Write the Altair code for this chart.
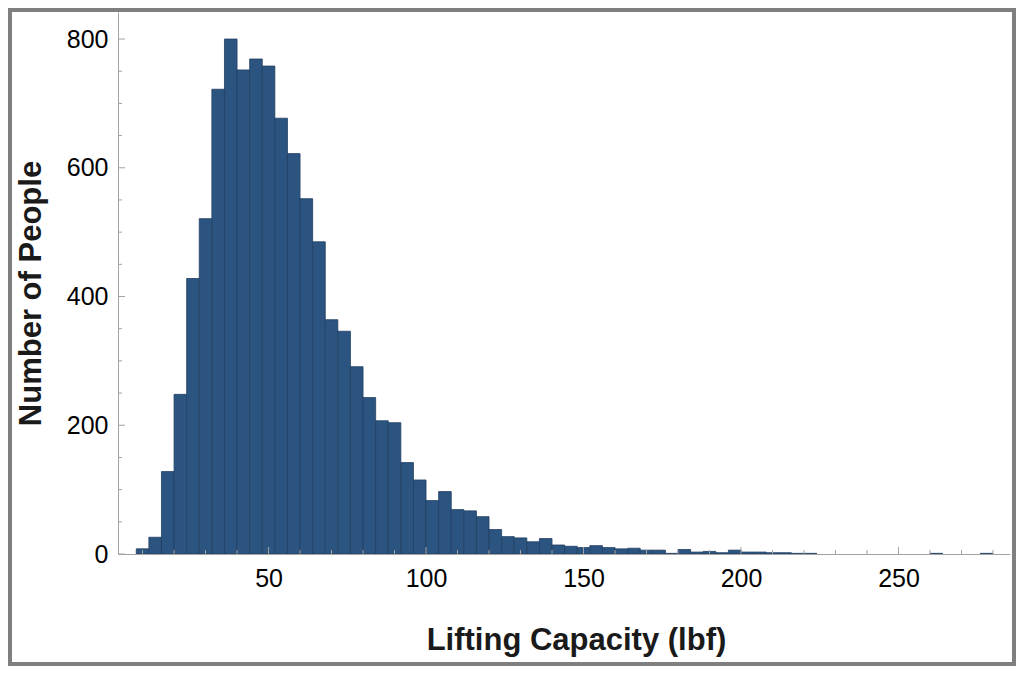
import altair as alt
import pandas as pd

# Histogram data (bin width 4 lbf)
bin_start = [8, 12, 16, 20, 24, 28, 32, 36, 40, 44, 48, 52, 56, 60, 64, 68, 72, 76,
             80, 84, 88, 92, 96, 100, 104, 108, 112, 116, 120, 124, 128, 132, 136,
             140, 144, 148, 152, 156, 160, 164, 168, 172, 176, 180, 184, 188, 192,
             196, 200, 204, 208, 212, 216, 220, 260, 276]
counts = [8, 26, 128, 248, 428, 521, 722, 800, 752, 769, 758, 677, 622, 552, 485,
          364, 346, 291, 243, 207, 204, 142, 115, 83, 97, 69, 67, 58, 38, 27, 25,
          19, 24, 14, 12, 10, 13, 10, 8, 9, 6, 6, 1, 7, 3, 4, 2, 6, 3, 3, 2, 2,
          1, 1, 1, 1]
bin_width = 4

x_major = [50, 100, 150, 200, 250]
x_minor = [10, 20, 30, 40, 60, 70, 80, 90, 110, 120, 130, 140, 160, 170, 180,
           190, 210, 220, 230, 240, 260, 270, 280]
y_major = [0, 200, 400, 600, 800]
y_minor = [50, 100, 150, 250, 300, 350, 450, 500, 550, 650, 700, 750]

W, H = 892, 542
FONT = "Liberation Sans, Arial, Helvetica, sans-serif"
BAR = "#2C5481"
BAR_EDGE = "#213F62"
AXIS = "#A3A3A3"

df = pd.DataFrame({"start": bin_start, "count": counts})
df["end"] = df["start"] + bin_width

xscale = alt.Scale(domain=[2.2, 285.4], nice=False, zero=False)
yscale = alt.Scale(domain=[0, 842], nice=False)

x_axis = alt.Axis(values=x_major, title="Lifting Capacity (lbf)", zindex=2,
                  labelPadding=12, titleX=458, titleY=86,
                  titleBaseline="middle", titleAlign="center")
y_axis = alt.Axis(values=y_major, title="Number of People", zindex=2,
                  labelPadding=10, titleX=-87, titleY=281, titleAngle=270,
                  titleBaseline="middle", titleAlign="center")

frame = alt.Chart(alt.Data(values=[{}])).mark_rect(color="white").encode(
    x=alt.value(-106), x2=alt.value(894), y=alt.value(0), y2=alt.value(650)
)

bars = alt.Chart(df).mark_rect(color=BAR, stroke=BAR_EDGE, strokeWidth=0.8).encode(
    x=alt.X("start:Q", scale=xscale, axis=x_axis),
    x2="end:Q",
    y=alt.Y("count:Q", scale=yscale, axis=y_axis),
    y2=alt.datum(0),
)

def xticks(vals, length):
    return alt.Chart(pd.DataFrame({"start": vals})).mark_rule(color=AXIS, strokeWidth=1).encode(
        x=alt.X("start:Q", scale=xscale, axis=x_axis),
        y=alt.value(H), y2=alt.value(H - length),
    )

def yticks(vals, length):
    return alt.Chart(pd.DataFrame({"count": vals})).mark_rule(color=AXIS, strokeWidth=1).encode(
        y=alt.Y("count:Q", scale=yscale, axis=y_axis),
        x=alt.value(0), x2=alt.value(length),
    )

chart = alt.layer(
    frame, bars,
    xticks(x_minor, 4), xticks(x_major, 7),
    yticks(y_minor, 4), yticks(y_major, 7),
).properties(
    width=W, height=H,
    padding={"left": 110, "top": 4, "right": 6, "bottom": 112},
    autosize=alt.AutoSizeParams(type="none"),
).configure(
    background="#7F7F7F"
).configure_view(
    strokeWidth=0
).configure_axis(
    labelFont=FONT, labelFontSize=25, labelColor="black",
    titleFont=FONT, titleFontSize=31, titleFontWeight="bold", titleColor="#1a1a1a",
    domainColor=AXIS, domainWidth=1, ticks=False, tickSize=0, grid=False,
    labelFlush=False, labelOverlap=False,
)

chart.save("out.html", embed_options={"renderer": "svg", "actions": False})
